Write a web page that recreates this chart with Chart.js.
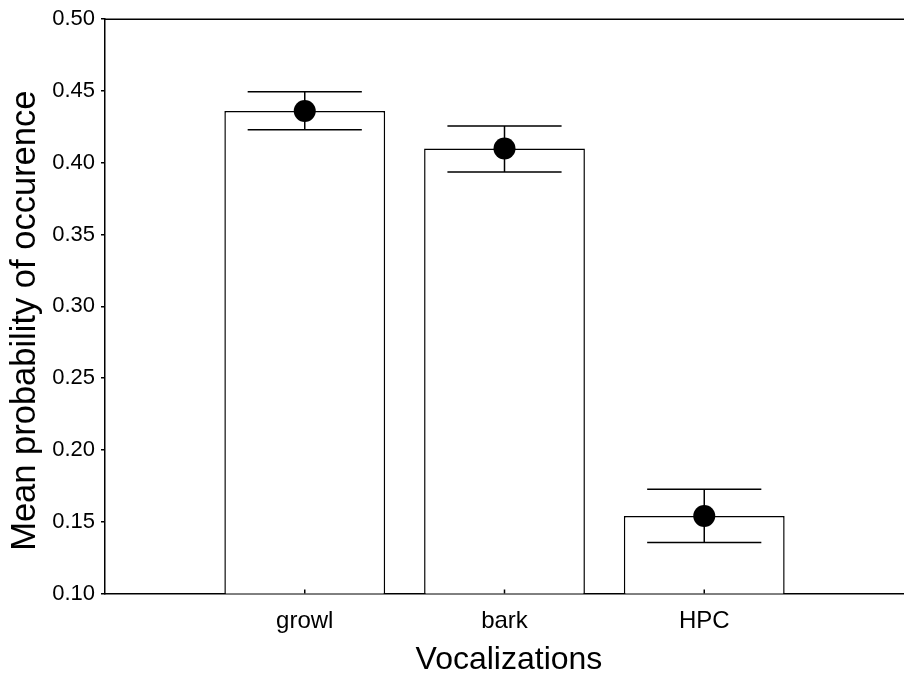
<!DOCTYPE html>
<html>
<head>
<meta charset="utf-8">
<script src="https://cdn.jsdelivr.net/npm/chart.js@4/dist/chart.umd.min.js"></script>
<style>
    body { margin: 0; background: #fff; }
    #wrap { width: 904px; height: 678px; position: relative; }
</style>
</head>
<body>
<div id="wrap"><canvas id="barChart"></canvas></div>
<script>
// nilai
const categories = ['growl', 'bark', 'HPC'];
const means = [0.436, 0.410, 0.154];
const lowerErr = [0.423, 0.3935, 0.1355];
const upperErr = [0.4495, 0.4257, 0.1726];
const yTicks = [0.10, 0.15, 0.20, 0.25, 0.30, 0.35, 0.40, 0.45, 0.50];

// slot kosong di kiri dan kanan supaya kategori ada di 1/4, 2/4, 3/4
const labels = [''].concat(categories, ['']);
const padded = arr => [null].concat(arr, [null]);
const lows = padded(lowerErr);
const highs = padded(upperErr);

const fontFamily = '"Liberation Sans", Arial, sans-serif';

// garis error, garis atas, dan tick kecil ke dalam di sumbu x
const errorBarPlugin = {
    id: 'errorBars',
    afterDatasetDraw(chart, args) {
        if (args.index !== 0) return;
        const ctx = chart.ctx;
        const y = chart.scales.y;
        ctx.save();
        ctx.strokeStyle = '#000';
        ctx.lineWidth = 1.5;
        args.meta.data.forEach((bar, i) => {
            if (lows[i] === null) return;
            const x = bar.x;
            const half = bar.width * 0.355;
            const yLo = y.getPixelForValue(lows[i]);
            const yHi = y.getPixelForValue(highs[i]);
            ctx.beginPath();
            ctx.moveTo(x, yLo); ctx.lineTo(x, yHi);
            ctx.moveTo(x - half, yLo); ctx.lineTo(x + half, yLo);
            ctx.moveTo(x - half, yHi); ctx.lineTo(x + half, yHi);
            ctx.stroke();
        });
        ctx.restore();
    },
    afterDraw(chart) {
        const ctx = chart.ctx;
        const area = chart.chartArea;
        const xs = chart.scales.x;
        ctx.save();
        ctx.strokeStyle = '#000';
        ctx.lineWidth = 1.5;
        ctx.beginPath();
        ctx.moveTo(area.left, area.top);
        ctx.lineTo(area.right, area.top);
        categories.forEach((c, i) => {
            const px = xs.getPixelForValue(i + 1);
            ctx.moveTo(px, area.bottom);
            ctx.lineTo(px, area.bottom - 4);
        });
        ctx.stroke();
        ctx.restore();
    }
};

const ctx = document.getElementById('barChart').getContext('2d');
const barChart = new Chart(ctx, {
    type: 'bar',
    data: {
        labels: labels,
        datasets: [{
            type: 'bar',
            data: padded(means),
            backgroundColor: '#ffffff',
            borderColor: '#000000',
            borderWidth: 1.5,
            categoryPercentage: 1,
            barPercentage: 0.805,
            order: 2
        }, {
            type: 'line',
            data: padded(means),
            showLine: false,
            pointRadius: 11,
            pointBackgroundColor: '#000000',
            pointBorderWidth: 0,
            order: 1
        }]
    },
    options: {
        responsive: true,
        maintainAspectRatio: false,
        animation: false,
        layout: { autoPadding: false, padding: { top: 16, right: 0, left: 0, bottom: 0 } },
        plugins: {
            legend: { display: false },
            tooltip: { enabled: false }
        },
        scales: {
            x: {
                offset: false,
                // tick asli ke dalam, jadi tick bawaan dibuat transparan
                grid: { drawOnChartArea: false, drawTicks: true, tickLength: 13, color: 'rgba(0,0,0,0)' },
                border: { display: true, color: '#000', width: 1.5 },
                ticks: {
                    color: '#000',
                    padding: 0,
                    maxRotation: 0,
                    autoSkip: false,
                    font: { family: fontFamily, size: 24 }
                },
                title: {
                    display: true,
                    text: ' Vocalizations',
                    color: '#000',
                    font: { family: fontFamily, size: 32, lineHeight: 1 },
                    padding: { top: 0, bottom: 2 }
                },
                afterFit(scale) { scale.height = 84.5; }
            },
            y: {
                min: 0.1,
                max: 0.5,
                afterBuildTicks(scale) {
                    scale.ticks = yTicks.map(v => ({ value: v }));
                },
                grid: { drawOnChartArea: false, tickLength: 4, color: '#000', lineWidth: 1.5 },
                border: { display: true, color: '#000', width: 1.5 },
                ticks: {
                    color: '#000',
                    padding: 6,
                    font: { family: fontFamily, size: 22 },
                    callback: v => Number(v).toFixed(2)
                },
                title: {
                    display: true,
                    text: 'Mean probability of occurence   ',
                    color: '#000',
                    font: { family: fontFamily, size: 34.5, lineHeight: 1 },
                    padding: { top: 8, bottom: 0 }
                },
                afterFit(scale) { scale.width = 105; }
            }
        }
    },
    plugins: [errorBarPlugin]
});
</script>
</body>
</html>
